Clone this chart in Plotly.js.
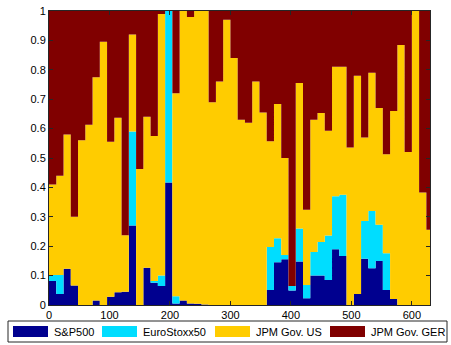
<!DOCTYPE html>
<html>
<head>
<meta charset="utf-8">
<script src="https://cdn.plot.ly/plotly-3.0.1.min.js"></script>
<style>html,body{margin:0;padding:0;background:#fff;}#chart{width:451px;height:345px;}</style>
</head>
<body>
<div id="chart"></div>
<script>
// Start index of each rebalancing period, and the end of the sample
const periodStart = [0,12,24,36,48,60,72,84,96,108,120,132,144,156,168,180,192,204,216,228,240,252,264,276,288,300,312,324,336,348,360,372,384,396,408,420,432,444,456,468,480,492,504,516,528,540,552,564,576,588,600,612,624];
const sampleEnd = 630;

const seriesNames = ["S&P500", "EuroStoxx50", "JPM Gov. US", "JPM Gov. GER"];

const sp500 = [0.082,0.037,0.123,0.066,0,0,0.015,0,0.028,0.043,0.045,0.27,0,0.127,0.076,0.065,0.417,0.005,0.015,0.005,0.004,0.002,0,0,0,0,0,0,0,0,0.051,0.145,0.156,0.049,0.148,0.023,0.10,0.10,0.085,0.19,0.167,0,0.037,0.157,0.125,0.15,0.051,0.02,0,0,0,0,0];
const eurostoxx50 = [0.02,0.065,0,0,0,0,0,0,0,0,0,0.32,0,0,0.006,0.035,0.583,0.025,0,0,0,0,0,0,0,0,0,0,0,0,0.146,0.082,0.014,0.016,0.112,0.045,0.08,0.114,0.151,0.18,0.208,0,0,0.129,0.195,0.123,0.125,0,0,0,0,0,0];
const jpmGovUS = [0.308,0.338,0.457,0.234,0.56,0.613,0.76,0.895,0.527,0.594,0.192,0.33,0.463,0.513,0.493,0.89,0,0.69,0.985,0.975,0.996,0.998,0.69,0.76,0.97,0.84,0.63,0.62,0.76,0.655,0.36,0.457,0.33,0,0.495,0.256,0.45,0.439,0.357,0.44,0.435,0.536,0.743,0.284,0.47,0.397,0.337,0.64,0.884,0.52,1.0,0.383,0.256];
const jpmGovGER = [0.59,0.56,0.42,0.70,0.44,0.387,0.225,0.105,0.445,0.363,0.763,0.08,0.537,0.36,0.425,0.01,0,0.28,0,0.02,0,0,0.31,0.24,0.03,0.16,0.37,0.38,0.24,0.345,0.443,0.316,0.50,0.935,0.245,0.676,0.37,0.347,0.407,0.19,0.19,0.464,0.22,0.43,0.21,0.33,0.487,0.34,0.116,0.48,0,0.617,0.744];

const xTicks = [0,100,200,300,400,500,600];
const yTicks = [0,0.1,0.2,0.3,0.4,0.5,0.6,0.7,0.8,0.9,1];

const colors = ["#00008F", "#00DDFF", "#FFCC00", "#800000"];
const allSeries = [sp500, eurostoxx50, jpmGovUS, jpmGovGER];

const xs = periodStart.concat([sampleEnd]);
const traces = allSeries.map((vals, i) => ({
  type: "scatter",
  mode: "lines",
  x: xs,
  y: vals.concat([vals[vals.length - 1]]),
  name: seriesNames[i],
  stackgroup: "w",
  line: {shape: "hv", width: 0, color: colors[i]},
  fillcolor: colors[i],
  hoverinfo: "skip",
  showlegend: false
}));

const W = 451, H = 345;
const M = {l: 49, r: 21, t: 11, b: 40};
const pw = W - M.l - M.r, ph = H - M.t - M.b;
const px = x => (x - M.l) / pw;            // pixel -> paper x
const py = y => (H - M.b - y) / ph;        // pixel -> paper y

const axisFont = {family: "Liberation Sans, Arial, sans-serif", size: 11, color: "#000"};

// Manual legend (Matlab-like wide patches in one bordered row)
const legBox = {x0: 8, x1: 447, y0: 321, y1: 342};
const patchX = [13, 102, 215, 330];
const patchW = 35;
const patchY0 = 326, patchY1 = 337;
const shapes = [{
  type: "rect", xref: "paper", yref: "paper",
  x0: px(legBox.x0), x1: px(legBox.x1), y0: py(legBox.y1), y1: py(legBox.y0),
  line: {color: "#262626", width: 1}, fillcolor: "#fff", layer: "above"
}];
const annotations = [];
seriesNames.forEach((n, i) => {
  shapes.push({
    type: "rect", xref: "paper", yref: "paper",
    x0: px(patchX[i]), x1: px(patchX[i] + patchW), y0: py(patchY1), y1: py(patchY0),
    line: {width: 0}, fillcolor: colors[i], layer: "above"
  });
  annotations.push({
    xref: "paper", yref: "paper", x: px(patchX[i] + patchW + 4), y: py((patchY0 + patchY1) / 2),
    xanchor: "left", yanchor: "middle", showarrow: false, text: n, font: axisFont
  });
});

const layout = {
  width: W, height: H,
  margin: {l: M.l, r: M.r, t: M.t, b: M.b, pad: 0},
  paper_bgcolor: "#fff",
  plot_bgcolor: "#fff",
  showlegend: false,
  font: axisFont,
  xaxis: {
    range: [0, sampleEnd], tickvals: xTicks, ticktext: xTicks.map(String),
    ticks: "inside", ticklen: 4, tickcolor: "#262626",
    showline: true, linecolor: "#262626", linewidth: 1, mirror: "ticks",
    showgrid: false, zeroline: false, tickfont: axisFont
  },
  yaxis: {
    range: [0, 1], tickvals: yTicks, ticktext: yTicks.map(String),
    ticks: "inside", ticklen: 4, tickcolor: "#262626",
    showline: true, linecolor: "#262626", linewidth: 1, mirror: "ticks",
    showgrid: false, zeroline: false, tickfont: axisFont
  },
  shapes: shapes,
  annotations: annotations
};

Plotly.newPlot("chart", traces, layout, {staticPlot: true, displayModeBar: false});
</script>
</body>
</html>
